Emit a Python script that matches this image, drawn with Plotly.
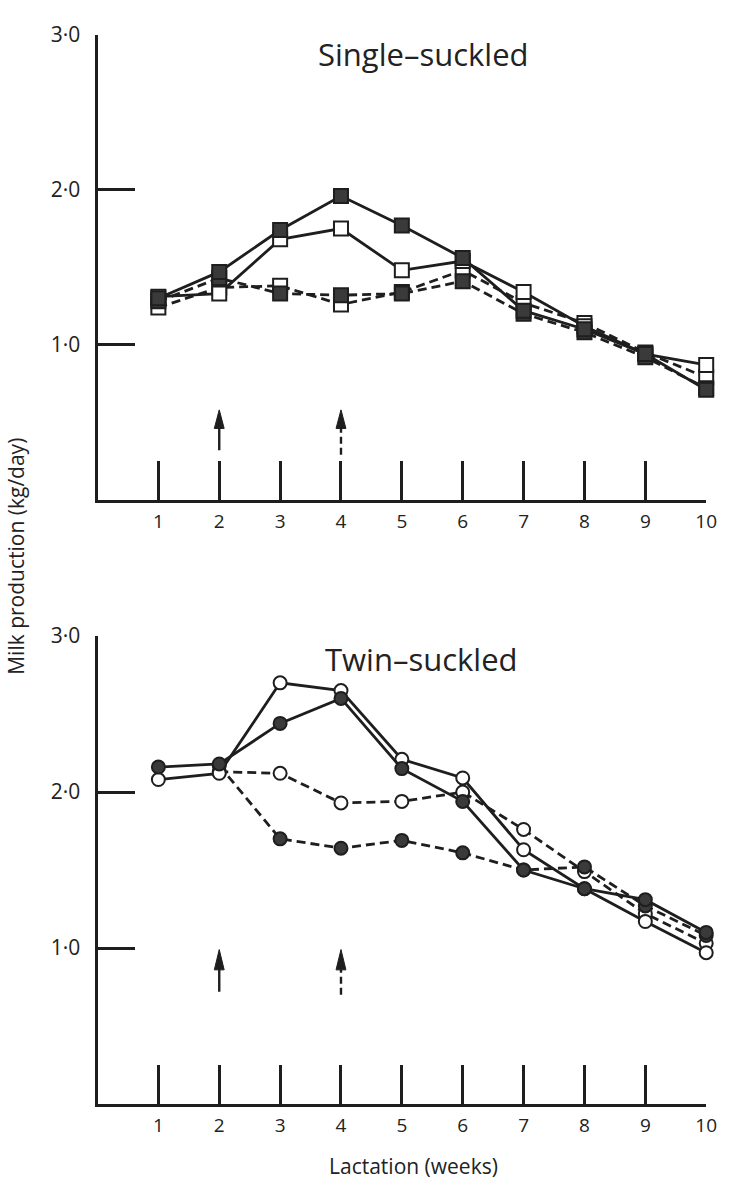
import plotly.graph_objects as go

weeks = [1, 2, 3, 4, 5, 6, 7, 8, 9, 10]
week_labels = ["1", "2", "3", "4", "5", "6", "7", "8", "9", "10"]
y_ticks = [1, 2, 3]
y_tick_labels = ["1·0", "2·0", "3·0"]

# Single-suckled (squares)
single_filled_solid = [1.30, 1.47, 1.74, 1.96, 1.77, 1.56, 1.22, 1.10, 0.94, 0.71]
single_open_solid = [1.31, 1.33, 1.68, 1.75, 1.48, 1.54, 1.34, 1.12, 0.94, 0.87]
single_filled_dashed = [1.28, 1.43, 1.33, 1.32, 1.33, 1.41, 1.20, 1.08, 0.92, 0.72]
single_open_dashed = [1.24, 1.37, 1.38, 1.26, 1.34, 1.48, 1.27, 1.14, 0.95, 0.79]

# Twin-suckled (circles)
twin_filled_solid = [2.16, 2.18, 2.44, 2.60, 2.15, 1.94, 1.50, 1.38, 1.31, 1.10]
twin_open_solid = [2.08, 2.12, 2.70, 2.65, 2.21, 2.09, 1.63, 1.38, 1.17, 0.97]
twin_filled_dashed = [None, 2.17, 1.70, 1.64, 1.69, 1.61, 1.50, 1.52, 1.27, 1.08]
twin_open_dashed = [None, 2.13, 2.12, 1.93, 1.94, 2.00, 1.76, 1.49, 1.22, 1.03]

# Arrows: (week, shaft start, head base, tip, style)
single_arrows = [(2, 0.32, 0.46, 0.58, "solid"), (4, 0.29, 0.46, 0.58, "dash")]
twin_arrows = [(2, 0.72, 0.86, 0.99, "solid"), (4, 0.70, 0.86, 0.99, "dash")]

INK = "#1e1e1e"
FILL = "#3a3a3a"
FONT = "Open Sans"

W, H = 730, 1183
x_dom = [99 / W, 717 / W]
top_dom = [1 - 491 / H, 1 - 20 / H]
bot_dom = [1 - 1103 / H, 1 - 629 / H]
X_RANGE = [0, 10]
px_per_week = (x_dom[1] - x_dom[0]) * W / (X_RANGE[1] - X_RANGE[0])
head_half = 5.0 / px_per_week

fig = go.Figure()
shapes = []


def add_series(y, filled, dash, symbol, xa, ya, size):
    fig.add_trace(go.Scatter(
        x=weeks, y=y, mode="lines+markers",
        line=dict(color=INK, width=2.8, dash="solid" if not dash else "9px,5px"),
        marker=dict(symbol=symbol, size=size,
                    color=FILL if filled else "white",
                    line=dict(color=INK, width=2)),
        xaxis=xa, yaxis=ya, cliponaxis=False, showlegend=False,
        connectgaps=False,
    ))


def add_arrows(arrows, xa, ya):
    for wk, y0, yb, yt, dash in arrows:
        fig.add_trace(go.Scatter(
            x=[wk, wk], y=[y0, yb + 0.01], mode="lines",
            line=dict(color=INK, width=2.4, dash="solid" if dash == "solid" else "7px,4px"),
            xaxis=xa, yaxis=ya, showlegend=False, hoverinfo="skip",
        ))
        shapes.append(dict(
            type="path", xref=xa, yref=ya,
            path=f"M {wk - head_half},{yb} L {wk},{yt} L {wk + head_half},{yb} Z",
            fillcolor=INK, line=dict(color=INK, width=1),
        ))


# top panel
add_series(single_open_dashed, False, True, "square", "x", "y", 14)
add_series(single_filled_dashed, True, True, "square", "x", "y", 14)
add_series(single_open_solid, False, False, "square", "x", "y", 14)
add_series(single_filled_solid, True, False, "square", "x", "y", 14)
add_arrows(single_arrows, "x", "y")

# bottom panel
add_series(twin_open_dashed, False, True, "circle", "x2", "y2", 13)
add_series(twin_filled_dashed, True, True, "circle", "x2", "y2", 13)
add_series(twin_open_solid, False, False, "circle", "x2", "y2", 13)
add_series(twin_filled_solid, True, False, "circle", "x2", "y2", 13)
add_arrows(twin_arrows, "x2", "y2")

xcommon = dict(range=X_RANGE, domain=x_dom, showline=True, linewidth=3,
               linecolor=INK, ticks="inside", ticklen=39, tickwidth=3,
               tickcolor=INK, tickvals=weeks, ticktext=week_labels,
               showgrid=False, zeroline=False, ticklabelstandoff=2,
               tickfont=dict(family=FONT, size=19, color="#222"))
ycommon = dict(range=[0, 3], showline=True, linewidth=3, linecolor=INK,
               ticks="inside", ticklen=37, tickwidth=3, tickcolor=INK,
               tickvals=y_ticks, ticktext=y_tick_labels, showgrid=False,
               zeroline=False, ticklabelstandoff=10,
               tickfont=dict(family=FONT, size=21, color="#222"))

fig.update_layout(
    width=W, height=H, margin=dict(l=0, r=0, t=0, b=0),
    paper_bgcolor="white", plot_bgcolor="white", showlegend=False,
    xaxis=dict(**xcommon, anchor="y"),
    yaxis=dict(**ycommon, domain=top_dom, anchor="x"),
    xaxis2=dict(**xcommon, anchor="y2"),
    yaxis2=dict(**ycommon, domain=bot_dom, anchor="x2"),
    shapes=shapes,
    annotations=[
        dict(text="Single–suckled", x=430 / W, y=1 - 40 / H, xref="paper", yref="paper",
             xanchor="center", yanchor="middle",
             showarrow=False, font=dict(family=FONT, size=31, color="#222")),
        dict(text="Twin–suckled", x=428 / W, y=1 - 652 / H, xref="paper", yref="paper",
             xanchor="center", yanchor="middle",
             showarrow=False, font=dict(family=FONT, size=31, color="#222")),
        dict(text="Milk production (kg/day)", x=16 / W, y=1 - 548 / H, xref="paper", yref="paper",
             xanchor="center", yanchor="middle",
             showarrow=False, textangle=-90, font=dict(family=FONT, size=21, color="#222")),
        dict(text="Lactation (weeks)", x=420 / W, y=1 - 1166 / H, xref="paper", yref="paper",
             xanchor="center", yanchor="middle",
             showarrow=False, font=dict(family=FONT, size=21, color="#222")),
    ],
)

fig.write_html("out.html")
